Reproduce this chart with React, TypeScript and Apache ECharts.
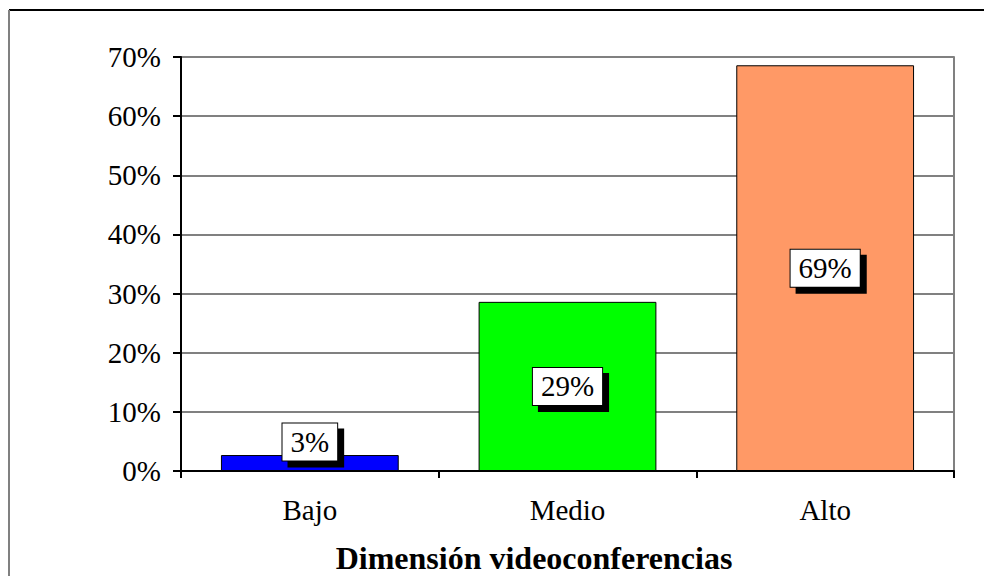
import React, { useEffect, useRef } from "react";
import * as echarts from "echarts";

const categories = ["Bajo", "Medio", "Alto"];
const values = [0.027, 0.286, 0.686];
const labels = ["3%", "29%", "69%"];
const colors = ["#0000FF", "#00FF00", "#FF9966"];
const labelOffsets = [[0, -21], [0, 0], [0, 0]];
const axisTitle = "Dimensión videoconferencias";

export default function App() {
  const ref = useRef<HTMLDivElement>(null);
  useEffect(() => {
    if (!ref.current) return;
    const chart = echarts.init(ref.current, null, { renderer: "svg" });
    const font = "'Liberation Serif', 'Times New Roman', serif";
    chart.setOption({
      animation: false,
      backgroundColor: "#fff",
      textStyle: { fontFamily: font },
      grid: { left: 181, top: 57, right: 30, bottom: 105 },
      xAxis: {
        type: "category",
        data: categories,
        axisLine: { lineStyle: { color: "#000", width: 2 } },
        axisTick: { show: true, alignWithLabel: false, length: 7, lineStyle: { color: "#000", width: 2 } },
        axisLabel: { color: "#000", fontSize: 29, fontFamily: font, margin: 24 },
      },
      yAxis: [
        {
          type: "value",
          min: 0,
          max: 0.7,
          interval: 0.1,
          axisLine: { show: true, lineStyle: { color: "#000", width: 2 } },
          axisTick: { show: true, length: 8, lineStyle: { color: "#000", width: 2 } },
          axisLabel: {
            color: "#000",
            fontSize: 29,
            fontFamily: font,
            margin: 20,
            formatter: (v: number) => Math.round(v * 100) + "%",
          },
          splitLine: { show: true, lineStyle: { color: "#808080", width: 2 } },
        },
        {
          type: "value",
          position: "right",
          min: 0,
          max: 0.7,
          interval: 0.1,
          axisLine: { show: true, lineStyle: { color: "#808080", width: 2 } },
          axisTick: { show: false },
          axisLabel: { show: false },
          splitLine: { show: false },
        },
      ],
      series: [
        {
          type: "bar",
          barCategoryGap: "31%",
          yAxisIndex: 0,
          data: values.map((v, i) => ({
            value: v,
            itemStyle: { color: colors[i], borderColor: "#000", borderWidth: 1 },
            label: {
              show: true,
              position: "inside",
              offset: labelOffsets[i],
              formatter: labels[i],
              color: "#000",
              fontSize: 29,
              fontFamily: font,
              backgroundColor: "#fff",
              borderColor: "#000",
              borderWidth: 1,
              padding: [5, 8, 3, 8],
              shadowColor: "#000",
              shadowBlur: 0,
              shadowOffsetX: 6,
              shadowOffsetY: 6,
            },
          })),
        },
      ],
      graphic: [
        { type: "line", shape: { x1: 9, y1: 10, x2: 984, y2: 10 }, style: { stroke: "#000", lineWidth: 2 } },
        { type: "line", shape: { x1: 9, y1: 10, x2: 9, y2: 576 }, style: { stroke: "#808080", lineWidth: 2 } },
        {
          type: "text",
          x: 534,
          y: 558,
          style: {
            text: axisTitle,
            fontSize: 32,
            lineHeight: 30,
            fontWeight: "bold",
            fontFamily: font,
            fill: "#000",
            textAlign: "center",
            textVerticalAlign: "middle",
          },
        },
      ],
    });
    return () => chart.dispose();
  }, []);
  return <div ref={ref} style={{ width: 984, height: 576, position: "absolute", left: 0, top: 0 }} />;
}
